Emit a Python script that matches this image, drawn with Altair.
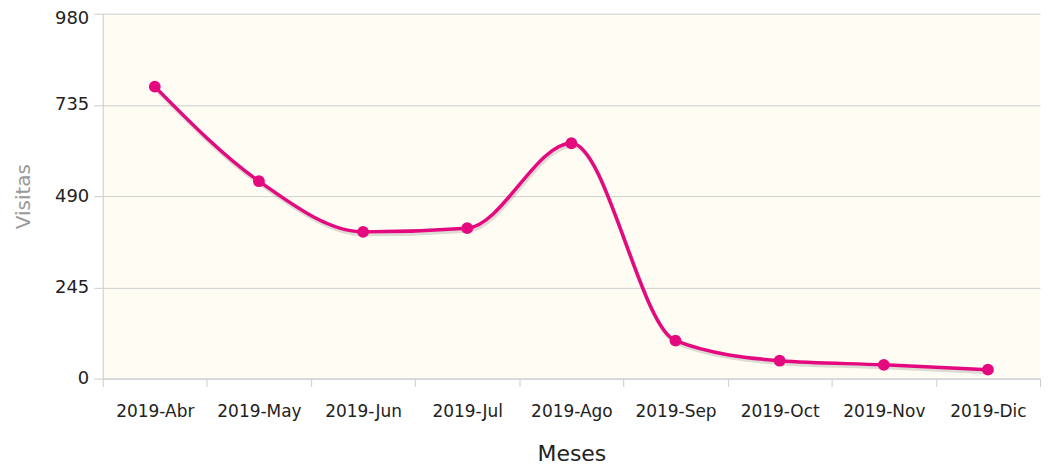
import altair as alt
import pandas as pd

meses = ["2019-Abr", "2019-May", "2019-Jun", "2019-Jul", "2019-Ago",
         "2019-Sep", "2019-Oct", "2019-Nov", "2019-Dic"]
visitas = [784, 530, 394, 404, 632, 102, 48, 37, 24]
ticks_y = [0, 245, 490, 735, 980]

df = pd.DataFrame({"Meses": meses, "Visitas": visitas})

FONT = "DejaVu Sans"
PINK = "#e5097f"

x = alt.X("Meses:N", sort=meses, title="Meses",
          scale=alt.Scale(paddingInner=0, paddingOuter=0),
          axis=alt.Axis(labelAngle=0, labelFontSize=17, labelColor="#222",
                        labelFont=FONT, labelPadding=17, tickBand="extent",
                        tickSize=8, tickColor="#ccc", domainColor="#ccc",
                        titleFontSize=22, titleFont=FONT, titleFontWeight="normal",
                        titleColor="#222", titlePadding=24, grid=False))
y = alt.Y("Visitas:Q", title="Visitas",
          scale=alt.Scale(domain=[0, 980], nice=False),
          axis=alt.Axis(values=ticks_y, labelFontSize=18,
                        labelColor="#222", labelFont=FONT, labelPadding=5,
                        labelOffset={"condition": {"test": "datum.value == 980", "value": 5}, "value": 0},
                        tickSize=9, tickColor="#ccc", domainColor="#ccc",
                        gridColor="#cfcfcf", titleFontSize=20, titleFont=FONT,
                        titleFontWeight="normal", titleColor="#999",
                        titlePadding=21))

base = alt.Chart(df)
shadow = base.mark_line(interpolate="monotone", color="#777", opacity=0.25,
                        strokeWidth=4, yOffset=2.5, xOffset=1).encode(x=x, y=y)
line = base.mark_line(interpolate="monotone", color=PINK, strokeWidth=3.5).encode(x=x, y=y)
pts = base.mark_circle(color=PINK, opacity=1, size=140).encode(x=x, y=y)

chart = (shadow + line + pts).properties(
    width=940, height=366,
    autosize=alt.AutoSizeParams(type="none"),
    padding={"left": 95, "top": 5, "right": 5, "bottom": 89},
    background="white",
).configure_view(fill="#fefcf3", stroke=None)

chart.save("out.html", embed_options={"renderer": "svg", "actions": False})
